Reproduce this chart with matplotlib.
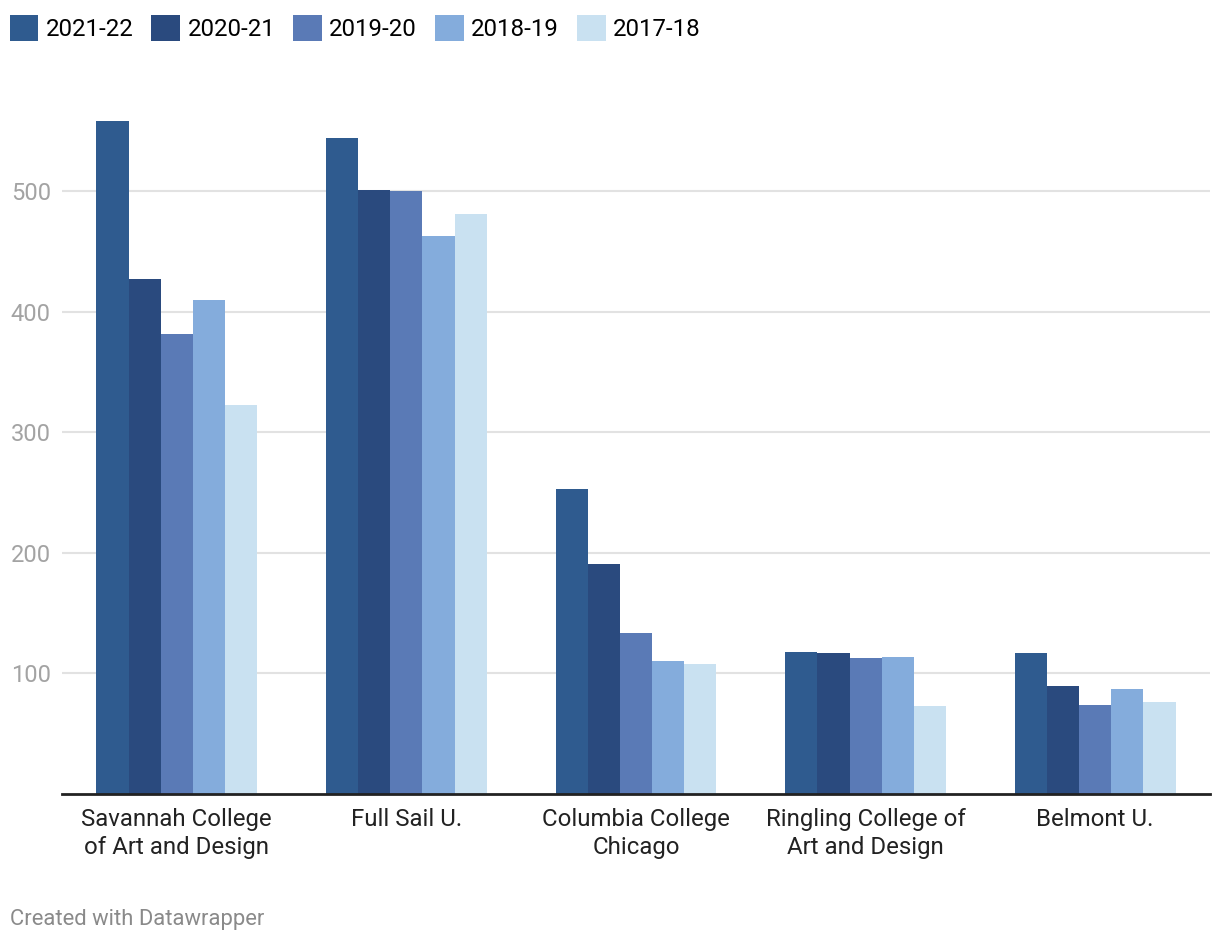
import matplotlib
matplotlib.use("Agg")
import matplotlib.pyplot as plt
from matplotlib.patches import Patch
import numpy as np

plt.rcParams['font.family'] = ['Roboto', 'DejaVu Sans']

categories = ["Savannah College\nof Art and Design", "Full Sail U.", "Columbia College\nChicago",
              "Ringling College of\nArt and Design", "Belmont U."]
series_names = ["2021-22", "2020-21", "2019-20", "2018-19", "2017-18"]
v2021_22 = [558, 544, 253, 118, 117]
v2020_21 = [427, 501, 191, 117, 90]
v2019_20 = [382, 500, 134, 113, 74]
v2018_19 = [410, 463, 110, 114, 87]
v2017_18 = [323, 481, 108, 73, 76]
yticks = [100, 200, 300, 400, 500]
colors = ["#2f5b8f", "#2a4a7e", "#5a7ab6", "#84acdc", "#c9e1f1"]

series = [v2021_22, v2020_21, v2019_20, v2018_19, v2017_18]

fig = plt.figure(figsize=(12.2, 9.44), dpi=100)
ax = fig.add_axes([62/1220, 150/944, 1148/1220, (794-101)/944])

x = np.arange(len(categories))
bw = 0.14
for i, (vals, c, name) in enumerate(zip(series, colors, series_names)):
    ax.bar(x + (i - 2) * bw, vals, width=bw, color=c, label=name, zorder=3, linewidth=0)

ax.set_xlim(-0.5, len(categories) - 0.5)
ax.set_ylim(0, 575)
ax.set_yticks(yticks)
ax.set_yticklabels([str(t) for t in yticks], color="#a3a3a3", fontsize=17)
ax.set_xticks(x)
ax.set_xticklabels(categories, fontsize=17.3, color="#222222", linespacing=1.27, va="top")
ax.tick_params(axis="y", length=0, pad=8)
ax.tick_params(axis="x", length=0, pad=10)
ax.grid(axis="y", color="#e2e2e2", linewidth=1.5, zorder=0)
for s in ["top", "right", "left"]:
    ax.spines[s].set_visible(False)
ax.spines["bottom"].set_color("#222222")
ax.spines["bottom"].set_linewidth(2)
ax.spines["bottom"].set_zorder(4)

handles = [Patch(facecolor=c, edgecolor="none") for c in colors]
fig.legend(handles, series_names, loc="upper left", bbox_to_anchor=(-0.002, 0.997), ncol=5,
           frameon=False, fontsize=17.3, handlelength=1.2, handleheight=1.3,
           handletextpad=0.3, columnspacing=0.75, borderaxespad=0.3, borderpad=0.2)

fig.text(10/1220, 1 - 920/944, "Created with Datawrapper", color="#8a8a8a", fontsize=15.8,
         va="center", ha="left")

fig.savefig("out.png", dpi=100)
